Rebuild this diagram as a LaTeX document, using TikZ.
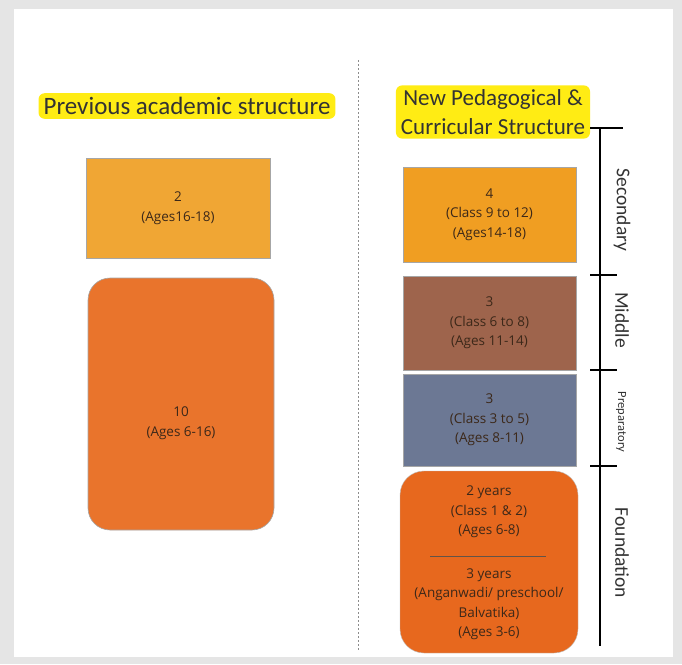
\documentclass[tikz,border=0pt]{standalone}
\usepackage{fontspec}
\setmainfont{Carlito}
\newfontfamily\boxfont{Open Sans}
\usetikzlibrary{calc}
\definecolor{markyellow}{RGB}{255,236,20}
\definecolor{oldsenior}{RGB}{240,166,52}
\definecolor{oldschool}{RGB}{233,116,44}
\definecolor{newsecondary}{RGB}{240,158,34}
\definecolor{newmiddle}{RGB}{158,100,76}
\definecolor{newprep}{RGB}{108,120,148}
\definecolor{newfound}{RGB}{231,104,30}
\definecolor{boxtext}{RGB}{60,40,25}
\tikzset{
  title-mark/.style={
    fill=markyellow,
    rounded corners=6pt,
    inner xsep=5pt,
    inner ysep=4pt,
    align=center,
    font=\fontsize{23}{29}\selectfont,
    text=black!80
  },
  stage-box/.style={
    draw=black!35,
    line width=0.6pt,
    align=center,
    text=boxtext,
    font=\boxfont\fontsize{13.5}{19.5}\selectfont,
    inner sep=0pt
  },
  stage-tick/.style={line width=2.4pt, draw=black},
  stage-label/.style={
    rotate=-90,
    text=black!80,
    font=\fontsize{19.5}{21}\selectfont
  }
}
\newcommand{\pageframe}{
  \useasboundingbox (0,0) rectangle (682,664);
  \fill[black!10] (0,0) rectangle (682,664);
  \fill[white] (14,9) rectangle (673,657);
}

\begin{document}
\begin{tikzpicture}[x=1pt, y=-1pt]
  \pageframe

  % 1. Divider between the two structures
  \coordinate (divider-top) at (358,60);
  \coordinate (divider-bottom) at (358,650);
  \draw[black!45, line width=0.8pt, dash pattern=on 2pt off 2pt] (divider-top) -- (divider-bottom);

  % 2. Titles (yellow highlight)
  \node[title-mark, font=\fontsize{25}{29}\selectfont] (old-title) at (187,106) {Previous academic structure};
  \node[title-mark] (new-title) at (493,112) {New Pedagogical \&\\Curricular Structure};

  % 3. Previous structure (10 + 2)
  \node[stage-box, fill=oldsenior, minimum width=184pt, minimum height=100pt] (old-senior)
    at (178,208) {2\\(Ages16-18)};
  \node[stage-box, fill=oldschool, rounded corners=22pt, minimum width=186pt, minimum height=252pt] (old-school)
    at (181,404) {};
  \node[stage-box, draw=none] (old-school-text) at (181,423) {10\\(Ages 6-16)};

  % 4. New structure (5 + 3 + 3 + 4)
  \node[stage-box, fill=newsecondary, minimum width=173pt, minimum height=95pt] (new-secondary)
    at (489.5,214.5) {4\\(Class 9 to 12)\\(Ages14-18)};
  \node[stage-box, fill=newmiddle, minimum width=173pt, minimum height=94pt] (new-middle)
    at (489.5,323) {3\\(Class 6 to 8)\\(Ages 11-14)};
  \node[stage-box, fill=newprep, minimum width=173pt, minimum height=92pt] (new-prep)
    at (489.5,420) {3\\(Class 3 to 5)\\(Ages 8-11)};

  % Foundation: two parts split by a thin rule
  \fill[newfound, draw=black!25, rounded corners=24pt] (400,471) rectangle (578,653);
  \node[stage-box, draw=none] (found-upper) at (489,512) {2 years\\(Class 1 \& 2)\\(Ages 6-8)};
  \node[stage-box, draw=none] (found-lower) at (489,604) {3 years\\(Anganwadi/ preschool/\\Balvatika)\\(Ages 3-6)};
  \coordinate (found-rule-l) at (430,556);
  \coordinate (found-rule-r) at (546,556);
  \draw[boxtext!80, line width=0.6pt] (found-rule-l) -- (found-rule-r);

  % 5. Stage ruler with ticks
  \coordinate (ruler-top) at (600,127);
  \coordinate (ruler-bottom) at (600,646);
  \draw[stage-tick] (ruler-top) -- (ruler-bottom);
  \draw[stage-tick] (590,128) -- (623,128);
  \foreach \ty in {275,370,466}
    \draw[stage-tick] (590,\ty) -- (617,\ty);

  % 6. Stage names (rotated)
  \node[stage-label] (lbl-secondary) at (622,210) {Secondary};
  \node[stage-label] (lbl-middle) at (622,320) {Middle};
  \node[stage-label, font=\fontsize{12.5}{14}\selectfont] (lbl-prep) at (621,422) {Preparatory};
  \node[stage-label] (lbl-found) at (622,553) {Foundation};

\end{tikzpicture}
\end{document}
